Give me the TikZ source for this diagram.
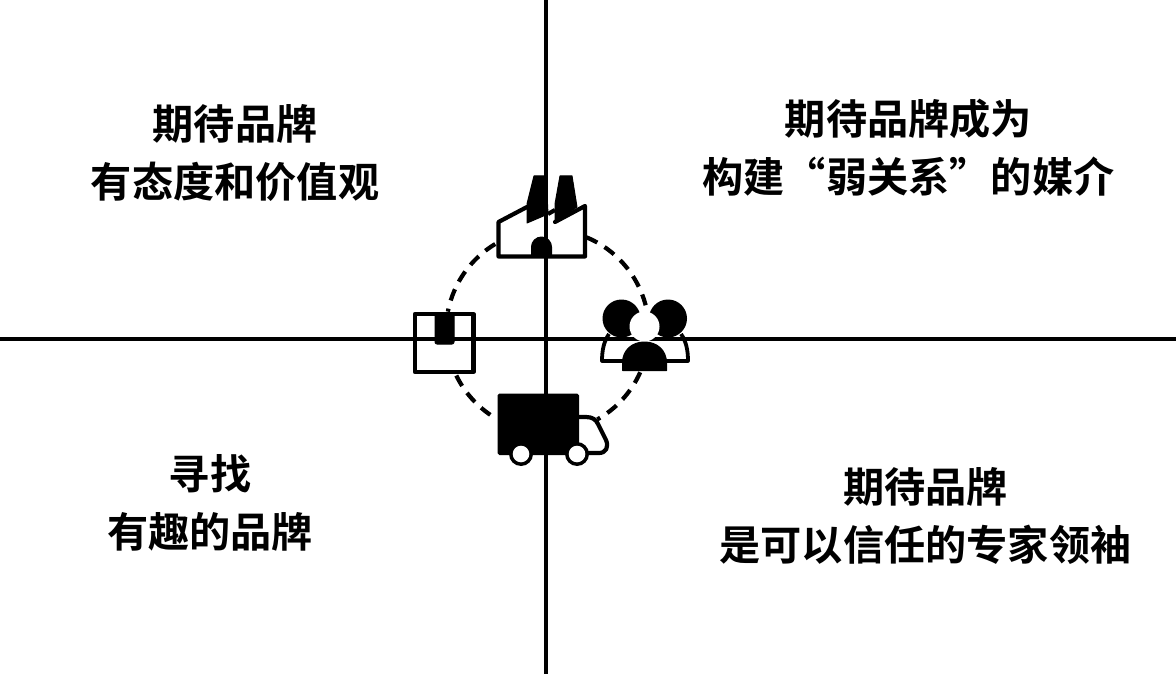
\documentclass[tikz,border=0pt]{standalone}
\usepackage{fontspec}
\newfontfamily\cjk{Noto Sans CJK SC}[BoldFont={Noto Sans CJK SC Bold}]
\tikzset{
 axis/.style={line width=3.3pt},
 icon/.style={line width=4.2pt,line join=round,line cap=round},
 solid black/.style={fill=black,draw=black,line width=1pt,line join=round},
 ring/.style={dash pattern=on 12pt off 8.5pt,line width=4.2pt},
 label/.style={font=\cjk\bfseries\fontsize{41.2}{58}\selectfont,align=center,inner sep=0pt}
}
\begin{document}
\begin{tikzpicture}[x=1pt,y=-1pt]
\useasboundingbox (0,0) rectangle (1176,674);
% axes
\coordinate (top) at (546,0); \coordinate (bottom) at (546,674);
\coordinate (left) at (0,339); \coordinate (right) at (1176,339);
\draw[axis] (top) -- (bottom);
\draw[axis] (left) -- (right);
% dashed ring
\coordinate (c) at (547.5,331);
\draw[ring] (c) ++(-121:101.5) arc[start angle=-121,end angle=-169,radius=101.5];
\draw[ring] (c) ++(-67.4:101.5) arc[start angle=-67.4,end angle=-14.7,radius=101.5];
\draw[ring] (c) ++(154:101.5) arc[start angle=154,end angle=124.3,radius=101.5];
\draw[ring] (c) ++(24:101.5) arc[start angle=24,end angle=60.6,radius=101.5];
% factory
\draw[icon] (527,207) -- (498.5,222) -- (498.5,256.5) -- (585,256.5) -- (585,206) -- (555,222);
\fill[solid black] (527,223) -- (527,204) -- (534,176) -- (546,176) -- (548,214) -- cycle;
\fill[solid black] (555,222) -- (555,204) -- (560,176) -- (572,176) -- (577,207) -- cycle;
\draw[line width=4.2pt] (548,214) -- (555,210);
\fill[solid black] (531.5,257) -- (531.5,247) arc[start angle=180,end angle=360,radius=10] -- (551.5,257) -- cycle;
% box
\draw[icon] (415,314) rectangle (473.5,372);
\fill[solid black,rounded corners=2pt] (435,313) rectangle (454,344);
% people
\fill (621.5,318.5) circle (19);
\fill (668,318.5) circle (19);
\draw[line width=3.8pt,line join=round] (609,334) .. controls (604,341) and (602,350) .. (602,361) -- (688,361) .. controls (688,350) and (686,341) .. (681,334);
\fill[white] (644.5,326.5) circle (15);
\fill[solid black] (622.5,370.5) -- (622.5,362) .. controls (623,350) and (632,342) .. (644.5,342) .. controls (657,342) and (666,350) .. (666.5,362) -- (666.5,370.5) -- cycle;
% truck
\fill[solid black,rounded corners=1.5pt] (498,394) rectangle (578.5,454.5);
\draw[line width=4.2pt,line join=round] (579,417) -- (586,417) .. controls (593,417) and (596,420) .. (598,424) -- (606,440) .. controls (609,447) and (606,453) .. (599,453) -- (587,453);
\fill (521,454) circle (12);
\fill (577,454) circle (12);
\fill[white] (521,454) circle (8.3);
\fill[white] (577,454) circle (8.3);
% labels
\node[label] (tl) at (235,152.5) {期待品牌\\有态度和价值观};
\node[label] (tr) at (908.5,147.5) {期待品牌成为\\构建“弱关系”的媒介};
\node[label] (bl) at (210,502.5) {寻找\\有趣的品牌};
\node[label] (br) at (925.5,515.5) {期待品牌\\是可以信任的专家领袖};
\end{tikzpicture}
\end{document}
